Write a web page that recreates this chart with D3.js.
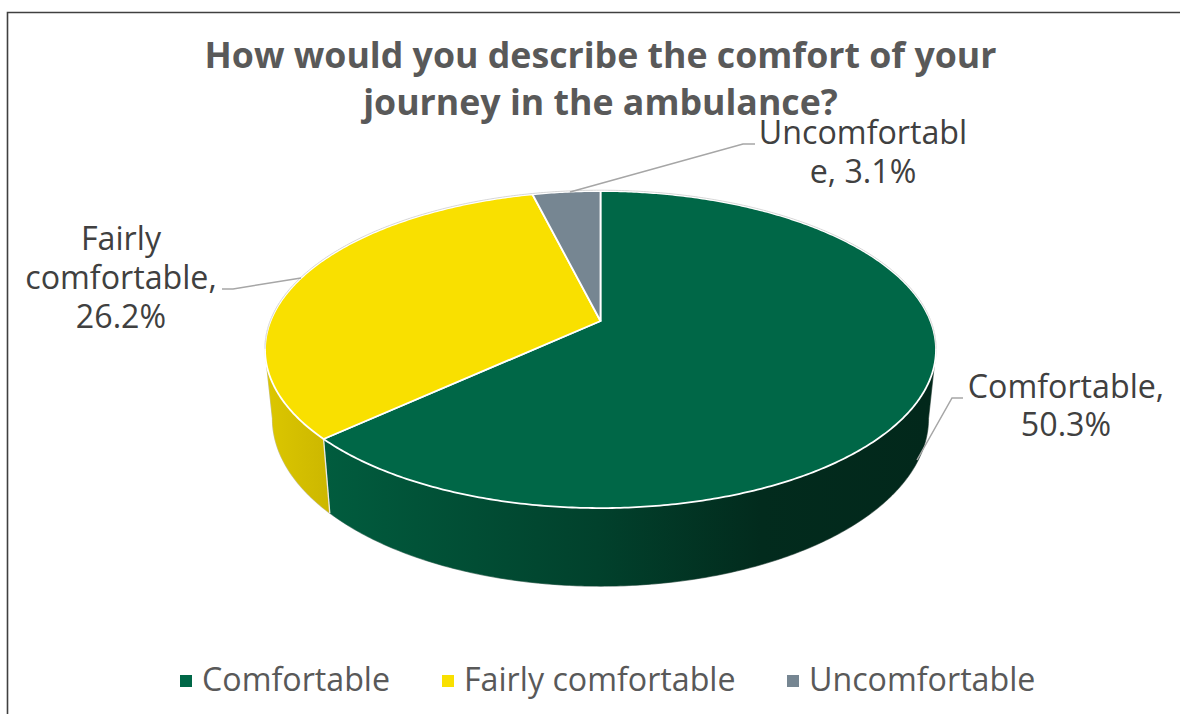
<!DOCTYPE html>
<html>
<head>
<meta charset="utf-8">
<script src="https://cdn.jsdelivr.net/npm/d3@7"></script>
<style>
html,body{margin:0;padding:0;background:#fff;overflow:hidden}
text{font-family:"Open Sans","Noto Sans",sans-serif}
</style>
</head>
<body>
<svg id="chart" width="1180" height="714"></svg>
<script>
const categories = ["Comfortable", "Fairly comfortable", "Uncomfortable"];
const values = [50.3, 26.2, 3.1];
const colors = ["#006747", "#f9e000", "#768692"];
const titleLines = ["How would you describe the comfort of your", "journey in the ambulance?"];
const dataLabelLines = [["Comfortable,", "50.3%"], ["Fairly", "comfortable,", "26.2%"], ["Uncomfortabl", "e, 3.1%"]];

const svg = d3.select("#chart");
const defs = svg.append("defs");

// Frame
svg.append("path").attr("d", "M7.5,714V12.5H1180").attr("fill", "none").attr("stroke", "#404040").attr("stroke-width", 1.6);

// Perspective model of the tilted disc
const cx = 600.5, cy = 321, A = 330, B = 153.4, persp = 0.18;
const A2 = 322.6, B2 = 162.3, drop = 67.2;
const top3 = t => { const w = 1 + persp * Math.cos(t); return [cx + A * Math.sin(t) / w, cy - B * Math.cos(t) / w]; };
const low3 = t => { const w = 1 + persp * Math.cos(t); return [cx + A2 * Math.sin(t) / w, cy + drop - B2 * Math.cos(t) / w]; };
const samples = (a, b) => { const n = Math.max(2, Math.ceil((b - a) / 0.01)); return d3.range(n + 1).map(i => a + (b - a) * i / n); };
const line = d3.line();

const arcs = d3.pie().value(d => d).sort(null)(values);
const thetaR = Math.acos(-persp), thetaL = 2 * Math.PI - thetaR;

// Wall gradients
function gradient(id, x1, x2, stops) {
  const g = defs.append("linearGradient").attr("id", id).attr("gradientUnits", "userSpaceOnUse")
    .attr("x1", x1).attr("x2", x2).attr("y1", 0).attr("y2", 0);
  stops.forEach(s => g.append("stop").attr("offset", s[0]).attr("stop-color", s[1]));
}
gradient("wall0", 325, 930, [[0, "#015c3e"], [0.45, "#01412c"], [0.72, "#022b1d"], [1, "#02281b"]]);
gradient("wall1", 265, 330, [[0, "#dcc700"], [1, "#ccb700"]]);
gradient("wall2", 265, 330, [[0, "#5f6c75"], [1, "#5f6c75"]]);

// Silhouette hairline
const silhouette = samples(thetaR, thetaL).map(low3).concat(samples(thetaL - 2 * Math.PI, thetaR).map(top3));
svg.append("path").attr("d", line(silhouette) + "Z").attr("fill", "#fff").attr("stroke", "#c8c8c8").attr("stroke-width", 1.4);

// Walls
arcs.forEach((d, i) => {
  const a = Math.max(d.startAngle, thetaR), b = Math.min(d.endAngle, thetaL);
  if (b <= a) return;
  const pts = samples(a, b).map(top3).concat(samples(a, b).reverse().map(low3));
  svg.append("path").attr("d", line(pts) + "Z").attr("fill", `url(#wall${i})`).attr("stroke", `url(#wall${i})`).attr("stroke-width", 0.5);
});
// Wall seams between slices
arcs.forEach(d => {
  [d.endAngle].forEach(t => {
    if (t > thetaR && t < thetaL) svg.append("path").attr("d", line([top3(t), low3(t)])).attr("stroke", "#e8e8e8").attr("stroke-width", 1.3).attr("fill", "none");
  });
});

// Top faces
arcs.forEach((d, i) => {
  const pts = [[cx, cy]].concat(samples(d.startAngle, d.endAngle).map(top3));
  svg.append("path").attr("d", line(pts) + "Z").attr("fill", colors[i]).attr("stroke", "#fff").attr("stroke-width", 1.8).attr("stroke-linejoin", "round");
});
// Grey hairline along the back of the top face
svg.append("path").attr("d", line(samples(thetaL - 2 * Math.PI, thetaR).map(top3).map(p => [p[0], p[1] - 0.8])))
  .attr("fill", "none").attr("stroke", "#cfcfcf").attr("stroke-width", 0.8);

// Leader lines
const leaders = [
  [[963, 398], [952, 398], [917, 460]],
  [[222, 289], [233, 289], [301, 278]],
  [[755, 144], [743, 144], [570, 192]]
];
leaders.forEach(l => svg.append("path").attr("d", line(l)).attr("fill", "none").attr("stroke", "#a6a6a6").attr("stroke-width", 1.5));

// Title
svg.append("g").selectAll("text").data(titleLines).join("text")
  .attr("x", 600.5).attr("y", (d, i) => 68 + i * 47)
  .attr("text-anchor", "middle").attr("font-size", 35.7).attr("font-weight", 700).attr("fill", "#595959").text(d => d);

// Data labels
const labelPos = [[1066, 398, 38], [121, 250, 39], [863, 144, 38.5]];
dataLabelLines.forEach((ls, i) => {
  svg.append("g").selectAll("text").data(ls).join("text")
    .attr("x", labelPos[i][0]).attr("y", (d, j) => labelPos[i][1] + j * labelPos[i][2])
    .attr("text-anchor", "middle").attr("font-size", 32.2).attr("fill", "#404040").text(d => d);
});

// Legend
const legendX = [180, 442, 787];
const lg = svg.append("g");
categories.forEach((c, i) => {
  lg.append("rect").attr("x", legendX[i]).attr("y", 675).attr("width", 12).attr("height", 12).attr("fill", colors[i]);
  lg.append("text").attr("x", legendX[i] + 22).attr("y", 691).attr("font-size", 32.2).attr("fill", "#595959").text(c);
});
</script>
</body>
</html>
